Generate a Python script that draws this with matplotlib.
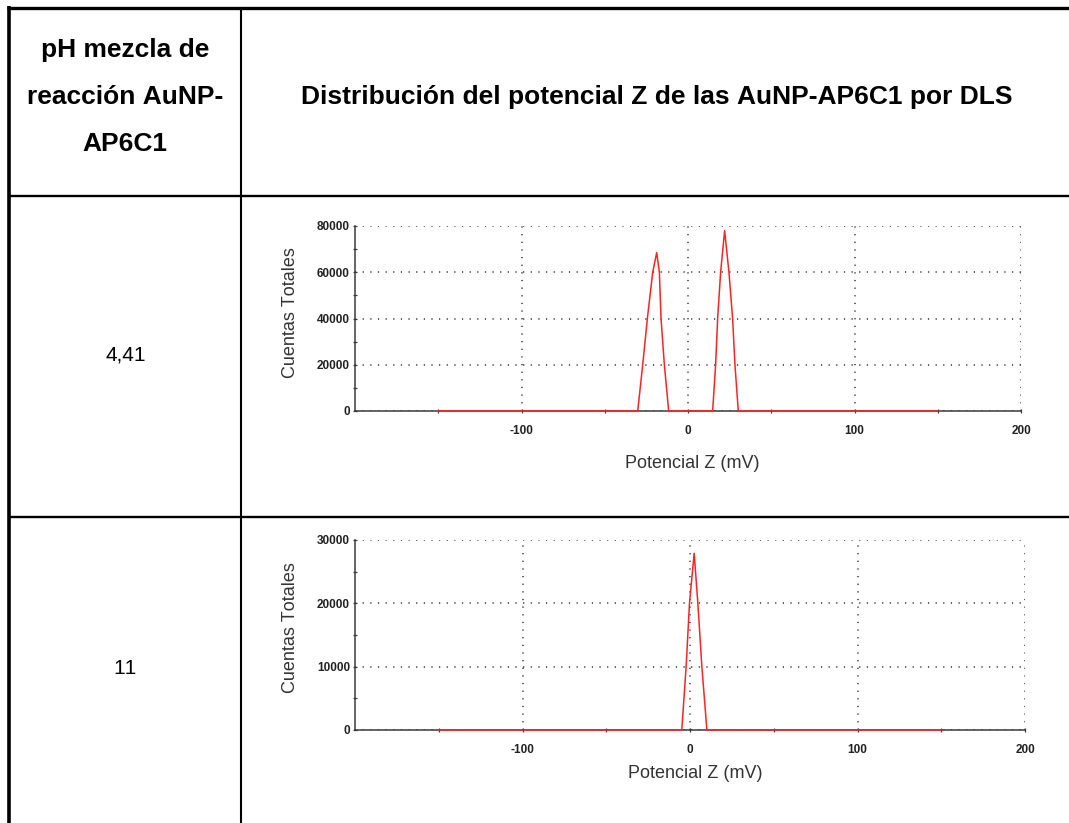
import matplotlib
matplotlib.use("Agg")
import matplotlib.pyplot as plt
from matplotlib.lines import Line2D

plt.rcParams["axes.unicode_minus"] = False
plt.rcParams["text.kerning_factor"] = 6

# --- data ---
header_left = "pH mezcla de\nreacción AuNP-\nAP6C1"
header_right = "Distribución del potencial Z de las AuNP-AP6C1 por DLS"
row_labels = ["4,41", "11"]

# pH 4,41 : two peaks
z_ph441 = [-150, -30.2, -27.2, -24.4, -21.2, -18.8, -17.2, -16.2, -14.2, -11.6,
           14.8, 16.6, 17.8, 19.6, 22.0, 24.6, 26.8, 28.2, 30.2, 150]
c_ph441 = [0, 0, 20000, 40000, 60000, 68500, 60000, 40000, 20000, 0,
           0, 20000, 40000, 60000, 78000, 60000, 40000, 20000, 0, 0]

# pH 11 : one peak
z_ph11 = [-150, -5.0, -2.4, -0.4, 2.4, 4.6, 7.0, 10.0, 150]
c_ph11 = [0, 0, 10000, 20000, 27900, 20000, 10000, 0, 0]

ymax = [80000, 30000]
ystep = [20000, 10000]

W, H = 1069, 823
fig = plt.figure(figsize=(W / 100, H / 100), dpi=100)
fig.patch.set_facecolor("white")

def fx(px):
	return px / W

def fy(py):
	return 1 - py / H

def hline(y, x0, x1, lw):
	fig.add_artist(Line2D([fx(x0), fx(x1)], [fy(y), fy(y)], color="black", lw=lw, solid_capstyle="butt"))

def vline(x, y0, y1, lw):
	fig.add_artist(Line2D([fx(x), fx(x)], [fy(y0), fy(y1)], color="black", lw=lw, solid_capstyle="butt"))

# table lines
hline(7.7, 7, W, 2.4)
vline(9, 6, H, 2.6)
vline(241, 7, H, 1.5)
hline(195.8, 9, W, 1.7)
hline(516.7, 9, W, 1.7)

font = "Liberation Sans"
fig.text(fx(125), fy(97), header_left, ha="center", va="center", fontsize=19,
		 fontweight="bold", family=font, linespacing=2.2)
fig.text(fx(657), fy(97), header_right, ha="center", va="center", fontsize=19,
		 fontweight="bold", family=font)
fig.text(fx(126), fy(355), row_labels[0], ha="center", va="center", fontsize=15, family=font)
fig.text(fx(125), fy(668), row_labels[1], ha="center", va="center", fontsize=15, family=font)

boxes = [(355, 1021, 226, 411), (355.3, 1025, 540, 730)]
series = [(z_ph441, c_ph441), (z_ph11, c_ph11)]
ylab_y = [0.53, 0.54]
xlab_y = [-0.24, -0.185]

for i in range(2):
	l, r, t, b = boxes[i]
	ax = fig.add_axes([fx(l), fy(b), (r - l) / W, (b - t) / H])
	ax.plot(series[i][0], series[i][1], color="#ff2222", lw=1.1, zorder=5, clip_on=False)
	ax.set_xlim(-200, 200)
	ax.set_ylim(0, ymax[i])
	ax.set_xticks([-100, 0, 100, 200])
	ax.set_xticks([-150, -50, 50, 150], minor=True)
	ax.set_yticks(list(range(0, ymax[i] + 1, ystep[i])))
	ax.set_yticks(list(range(ystep[i] // 2, ymax[i], ystep[i])), minor=True)
	for s in ["top", "right"]:
		ax.spines[s].set_visible(False)
	for s in ["left", "bottom"]:
		ax.spines[s].set_color("#3a3a3a")
		ax.spines[s].set_linewidth(1.1)
	ax.grid(True, which="major", color="#333333", lw=1.1, linestyle=(0, (0.8, 4.2)))
	ax.tick_params(which="both", direction="inout", length=3.5, width=0.9, color="#3a3a3a")
	ax.tick_params(axis="x", pad=8)
	ax.tick_params(axis="y", pad=2)
	for lab in ax.get_xticklabels() + ax.get_yticklabels():
		lab.set_fontsize(8.5)
		lab.set_fontweight("bold")
		lab.set_family(font)
		lab.set_color("#222222")
	ax.set_ylabel("Cuentas Totales", fontsize=13, family=font, color="#333333")
	ax.yaxis.set_label_coords(-0.0835, ylab_y[i])
	ax.set_xlabel("Potencial Z (mV)", fontsize=13, family=font, color="#333333")
	ax.xaxis.set_label_coords(0.507, xlab_y[i])
	ax.set_facecolor("none")

plt.savefig("out.png", dpi=100, facecolor="white")
